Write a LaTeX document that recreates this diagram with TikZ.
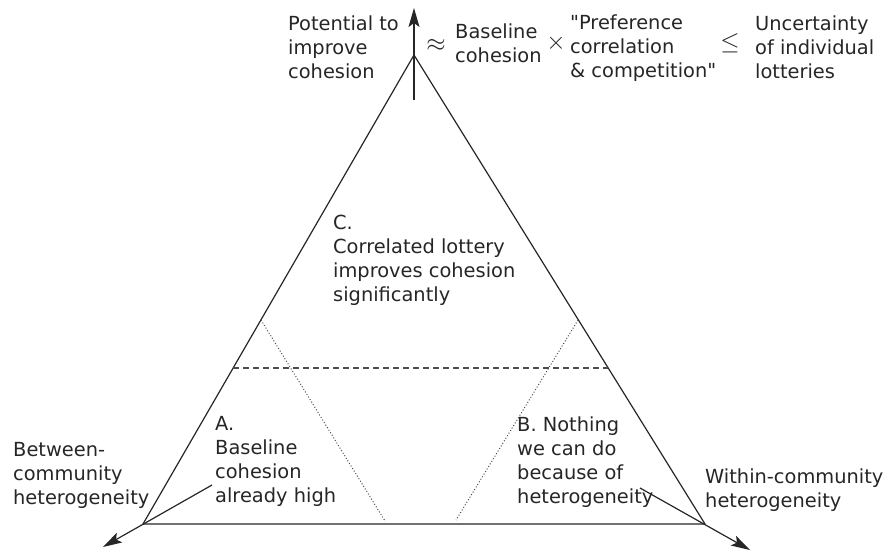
\documentclass[tikz,border=0pt]{standalone}
\usepackage{fontspec}
\setmainfont{DejaVu Sans}[Ligatures=TeXOff]
\usetikzlibrary{arrows.meta}
\tikzset{
  txt/.style={font=\fontsize{19.4}{24}\selectfont, align=left, inner sep=0pt, anchor=west, text=black!85},
  sym/.style={inner sep=0pt, text=black!85},
  edge/.style={line width=1.2pt, draw=black!85},
  arr/.style={edge, -{Stealth[length=19pt,width=11pt,inset=4pt]}},
  dotline/.style={line width=1pt, draw=black!70, dash pattern=on 1pt off 2pt},
  dashline/.style={line width=1.2pt, draw=black!70, dash pattern=on 6pt off 4pt}
}
\begin{document}
\begin{tikzpicture}[x=1pt,y=-1pt]
\useasboundingbox (0,0) rectangle (889,552);
% triangle corners
\coordinate (apex) at (414,55);
\coordinate (L) at (143,524);
\coordinate (R) at (705,524);
% arrow ends
\coordinate (vb) at (414,100);
\coordinate (vt) at (414,8);
\coordinate (as) at (212,485);
\coordinate (at) at (103,547);
\coordinate (bs) at (640,488);
\coordinate (bt) at (750,550);
% dotted / dashed ends
\coordinate (dl1) at (261,320);
\coordinate (dl2) at (385,521);
\coordinate (dr1) at (578,320);
\coordinate (dr2) at (456,520);
\coordinate (hl) at (233,368);
\coordinate (hr) at (608,368);

\draw[edge, line join=miter] (L) -- (apex) -- (R) -- cycle;
\draw[arr] (vb) -- (vt);
\draw[arr] (as) -- (at);
\draw[arr] (bs) -- (bt);
\draw[dotline] (dl1) -- (dl2);
\draw[dotline] (dr1) -- (dr2);
\draw[dashline] (hl) -- (hr);

% top formula
\node[txt] (pot) at (288,47) {Potential to\\improve\\cohesion};
\node[sym, font=\fontsize{35}{35}\selectfont] (approx) at (436,45) {$\approx$};
\node[txt] (base) at (455,43) {Baseline\\cohesion};
\node[sym, font=\fontsize{29}{29}\selectfont] (times) at (556,43) {$\times$};
\node[txt] (pref) at (570,48) {"Preference\\correlation\\\& competition"};
\node[sym, font=\fontsize{33}{33}\selectfont] (leq) at (730,43) {$\leq$};
\node[txt] (unc) at (755,47) {Uncertainty\\of individual\\lotteries};

% regions
\node[txt] (C) at (333,260) {C.\\Correlated lottery\\improves cohesion\\significantly};
\node[txt] (A) at (215,461) {A.\\Baseline\\cohesion\\already high};
\node[txt] (B) at (517,462) {B. Nothing\\we can do\\because of\\heterogeneity};

% axes
\node[txt] (between) at (13,475) {Between-\\community\\heterogeneity};
\node[txt] (within) at (705,490) {Within-community\\heterogeneity};
\end{tikzpicture}
\end{document}
